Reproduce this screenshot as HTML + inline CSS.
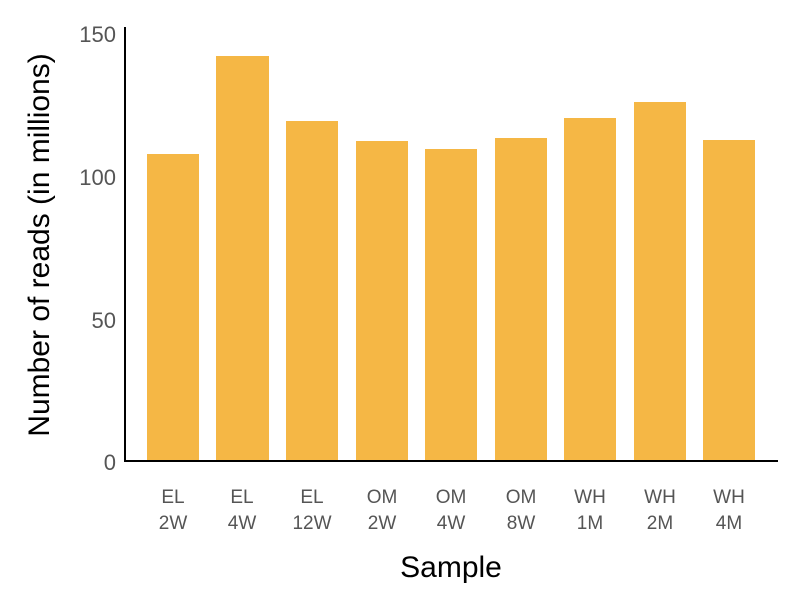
<!DOCTYPE html>
<html><head><style>
body{margin:0;background:#fff;}
svg{display:block;font-family:"Liberation Sans",sans-serif;}
</style></head><body>
<svg width="800" height="605" xmlns="http://www.w3.org/2000/svg">
<g fill="#F5B745">
<rect x="147" y="154" width="52" height="307"/>
<rect x="216" y="56" width="53" height="405"/>
<rect x="286" y="121" width="52" height="340"/>
<rect x="356" y="141" width="52" height="320"/>
<rect x="425" y="149" width="52" height="312"/>
<rect x="495" y="138" width="52" height="323"/>
<rect x="564" y="118" width="52" height="343"/>
<rect x="634" y="102" width="52" height="359"/>
<rect x="703" y="140" width="52" height="321"/>
</g>
<line x1="125" y1="27" x2="125" y2="462" stroke="#000" stroke-width="2"/>
<line x1="124" y1="461" x2="778" y2="461" stroke="#000" stroke-width="2"/>
<g fill="#555" font-size="22" text-anchor="end">
<text x="116" y="42">150</text>
<text x="116" y="185">100</text>
<text x="116" y="328">50</text>
<text x="116" y="470">0</text>
</g>
<g fill="#555" font-size="19" text-anchor="middle">
<text x="173" y="503">EL</text><text x="173" y="529">2W</text>
<text x="242" y="503">EL</text><text x="242" y="529">4W</text>
<text x="312" y="503">EL</text><text x="312" y="529">12W</text>
<text x="382" y="503">OM</text><text x="382" y="529">2W</text>
<text x="451" y="503">OM</text><text x="451" y="529">4W</text>
<text x="521" y="503">OM</text><text x="521" y="529">8W</text>
<text x="590" y="503">WH</text><text x="590" y="529">1M</text>
<text x="660" y="503">WH</text><text x="660" y="529">2M</text>
<text x="729" y="503">WH</text><text x="729" y="529">4M</text>
</g>
<text x="451" y="577" font-size="30" text-anchor="middle" fill="#000">Sample</text>
<text transform="translate(49,245) rotate(-90)" font-size="30" text-anchor="middle" fill="#000">Number of reads (in millions)</text>
</svg>
</body></html>
